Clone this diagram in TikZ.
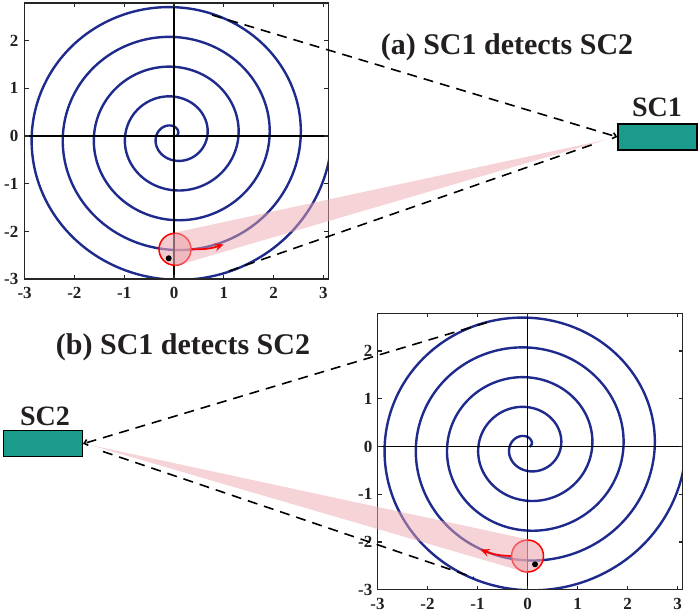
\documentclass[tikz,border=0pt]{standalone}
\usepackage{fontspec}
\setmainfont{Liberation Serif}
\usetikzlibrary{arrows.meta}
\definecolor{spiralblue}{RGB}{30,42,140}
\definecolor{scteal}{RGB}{26,155,140}
\definecolor{beampink}{RGB}{236,168,176}
\definecolor{txt}{RGB}{35,31,32}
\tikzset{
  spiralline/.style={draw=spiralblue, line width=2.4pt},
  axisline/.style={draw=black, line width=1.5pt},
  framebox/.style={draw=black!85, line width=1.7pt},
  tickmark/.style={draw=black!85, line width=1.2pt},
  ticklab/.style={font=\fontsize{17}{18}\selectfont\bfseries, text=txt, inner sep=0pt},
  beam/.style={fill=beampink, fill opacity=0.5},
  detcircle/.style={circle, draw=red, line width=1.5pt, fill=beampink, fill opacity=0.6, draw opacity=1, minimum size=32pt, inner sep=0pt},
  scdot/.style={circle, fill=black, inner sep=0pt, minimum size=6pt},
  redarrow/.style={draw=red, line width=1.7pt, -{Stealth[length=9pt,width=8pt,inset=3.5pt]}},
  sightline/.style={draw=black, line width=1.6pt, dash pattern=on 10pt off 7pt},
  sightarrow/.style={sightline, -{Straight Barb[length=3.5pt,width=6pt]}},
  scbox/.style={draw=black, line width=1.3pt, fill=scteal, minimum width=79pt, minimum height=26pt, inner sep=0pt},
  sclabel/.style={font=\fontsize{28}{30}\selectfont\bfseries, text=txt, inner sep=0pt, anchor=base},
  titlelab/.style={font=\fontsize{30}{32}\selectfont\bfseries, text=txt, inner sep=0pt, anchor=base}
}
\newcommand{\spiralpanel}[2]{%
  \begin{scope}
    \clip (-3,-3) rectangle (3.1,2.79);
    \draw[spiralline] plot[domain=0:31.4,samples=800,variable=\t, smooth]
      ({(0.044+0.0995*\t)*cos(\t r)},{(0.044+0.0995*\t)*sin(\t r)});
  \end{scope}
  \draw[axisline] (0,-3) -- (0,2.79);
  \draw[axisline] (-3,0) -- (3.1,0);
  \draw[framebox] (-3,-3) rectangle (3.1,2.79);
  \foreach \i in {-3,...,3} {
    \draw[tickmark] (\i,-3) -- ++(0,4pt);
    \draw[tickmark] (\i,2.79) -- ++(0,-4pt);
    \node[ticklab] (#2x\i) at ([yshift=-14pt]\i,-3) {\i};
  }
  \foreach \j in {-3,...,2} {
    \draw[tickmark] (-3,\j) -- ++(4pt,0);
    \draw[tickmark] (3.1,\j) -- ++(-4pt,0);
    \node[ticklab,anchor=east] (#2y\j) at ([xshift=-#1]-3,\j) {\j};
  }
}
\begin{document}
\begin{tikzpicture}[x=1pt,y=-1pt]
\useasboundingbox (0,0) rectangle (699,612);

% ---------- panel (a) ----------
\begin{scope}[shift={(174,136)}, x=49.8pt, y=47.7pt]
  \spiralpanel{6pt}{pa}
\end{scope}
% ---------- panel (b) ----------
\begin{scope}[shift={(527.5,446.5)}, x=50pt, y=47.7pt]
  \spiralpanel{5pt}{pb}
\end{scope}

% spacecraft
\node[scbox] (sc1) at (657.5,137) {};
\node[sclabel] (sc1lab) at (657,117) {SC1};
\node[scbox] (sc2) at (42.8,443.8) {};
\node[sclabel] (sc2lab) at (45,425) {SC2};

% titles
\node[titlelab] (ta) at (507,55) {(a) SC1 detects SC2};
\node[titlelab] (tb) at (183,355) {(b) SC1 detects SC2};

% detection circles
\node[detcircle] (cira) at (175,249.3) {};
\node[detcircle] (cirb) at (527.5,556) {};

% beams
\coordinate (apexa) at (607,139.5);
\coordinate (apexb) at (90,445);
\fill[beam] (apexa) -- (cira.north) -- (cira.south) -- cycle;
\fill[beam] (apexb) -- (cirb.north) -- (cirb.south) -- cycle;

% spacecraft dots
\node[scdot] (dota) at (168.7,258.3) {};
\node[scdot] (dotb) at (535,564.3) {};

% motion arrows
\coordinate (ra) at (223.5,244.5);
\coordinate (rb) at (480.5,549.5);
\draw[redarrow] (cira.east) to[bend right=10] (ra);
\draw[redarrow] (cirb.west) to[bend left=10] (rb);

% lines of sight
\coordinate (ua) at (212,15);
\coordinate (la0) at (229,271);
\coordinate (la1) at (597,143);
\draw[sightarrow] (ua) -- (sc1.west);
\draw[sightline] (la0) -- (la1);

\coordinate (ub) at (487,322.5);
\coordinate (lb0) at (103,451.5);
\coordinate (lb1) at (474,577.5);
\draw[sightarrow] (ub) -- (sc2.east);
\draw[sightline] (lb0) -- (lb1);
\end{tikzpicture}
\end{document}
